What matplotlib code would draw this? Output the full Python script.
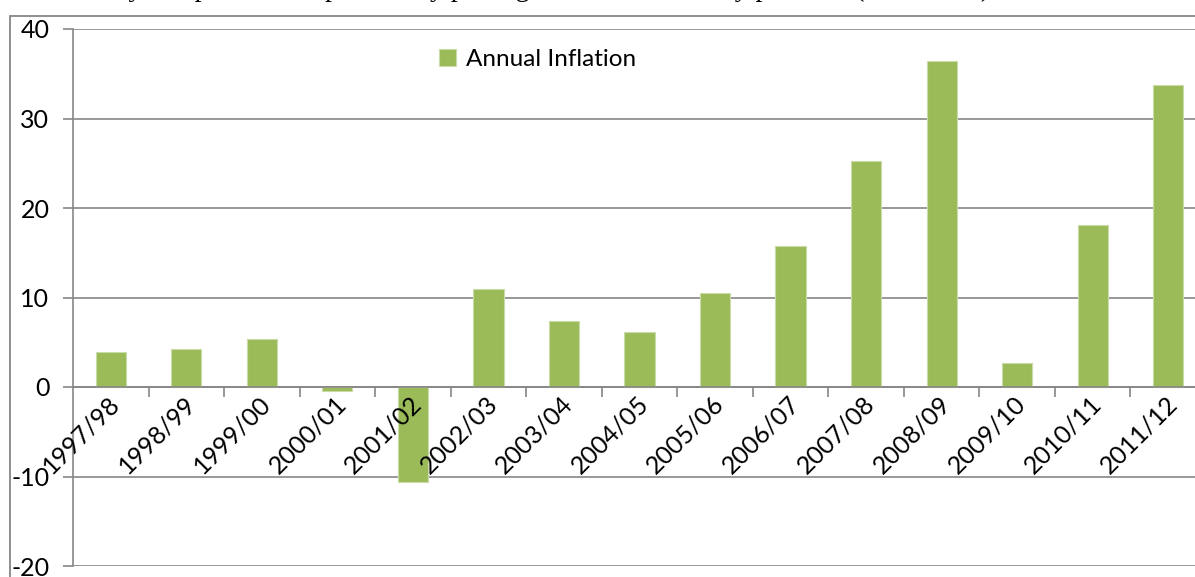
import matplotlib.pyplot as plt
from matplotlib.patches import Rectangle
from matplotlib.transforms import ScaledTranslation
import numpy as np

# Annual inflation by fiscal year (%)
years = ["1997/98", "1998/99", "1999/00", "2000/01", "2001/02", "2002/03", "2003/04",
         "2004/05", "2005/06", "2006/07", "2007/08", "2008/09", "2009/10", "2010/11", "2011/12"]
inflation = [3.9, 4.3, 5.4, -0.4, -10.6, 10.9, 7.4, 6.1, 10.5, 15.8, 25.3, 36.4, 2.7, 18.1, 33.7]

grey = "#868686"
green = "#9BBB59"

plt.rcParams['font.family'] = ['Lato', 'DejaVu Sans']
plt.rcParams['axes.unicode_minus'] = False

W, H = 1195, 577
fig = plt.figure(figsize=(W / 100, H / 100), dpi=100)

# surrounding text line, mostly cut off by the top edge
fig.text(0.0, 1 + 4.5 / H, "the economy's import sector, potentially putting further inflationary pressure (IMF, 2012).",
         family="Liberation Serif", fontsize=20, va="baseline", ha="left")

# chart frame
fig.patches.append(Rectangle((10 / W, -0.1), 1.1, 1 - 16 / H + 0.1, transform=fig.transFigure,
                             fill=False, edgecolor=grey, linewidth=1.3))

left, right = 73 / W, 1206 / W
top, bottom = 1 - 29 / H, 1 - 566 / H
ax = fig.add_axes([left, bottom, right - left, top - bottom])

x = np.arange(len(years))
ax.bar(x, inflation, width=0.4, color=green, edgecolor="#c9dca6", linewidth=0.8,
       label="Annual Inflation", zorder=3)

ax.set_xlim(-0.5, len(years) - 0.5)
ax.set_ylim(-20, 40)
ax.set_yticks(range(-20, 41, 10))
ax.yaxis.grid(True, color=grey, linewidth=1.2)
ax.set_axisbelow(True)
# category labels sit on top of the bars
ax.xaxis.set_zorder(5)

for side in ["top", "right"]:
    ax.spines[side].set_visible(False)
ax.spines["left"].set_color(grey)
ax.spines["left"].set_linewidth(1.2)
ax.spines["bottom"].set_position(("data", 0))
ax.spines["bottom"].set_color(grey)
ax.spines["bottom"].set_linewidth(1.2)
ax.spines["bottom"].set_zorder(4)

ax.tick_params(axis="y", length=7, width=1.2, color=grey, labelsize=18, pad=10)
ax.set_xticks(x)
ax.set_xticklabels(years, rotation=45, rotation_mode="anchor", ha="right", va="center", fontsize=18)
ax.tick_params(axis="x", length=0, pad=9)
ax.set_xticks(x[:-1] + 0.5, minor=True)
ax.tick_params(axis="x", which="minor", length=7, width=1.2, color=grey)
shift = ScaledTranslation(5 / 100, 0, fig.dpi_scale_trans)
for lbl in ax.get_xticklabels():
    lbl.set_transform(lbl.get_transform() + shift)

leg = ax.legend(loc="upper left", bbox_to_anchor=(439 / W, 1 - 49 / H), bbox_transform=fig.transFigure,
                frameon=False, fontsize=17.5, handlelength=0.7, handleheight=0.7, handletextpad=0.4,
                borderpad=0, borderaxespad=0)

fig.savefig("out.png", dpi=100)
